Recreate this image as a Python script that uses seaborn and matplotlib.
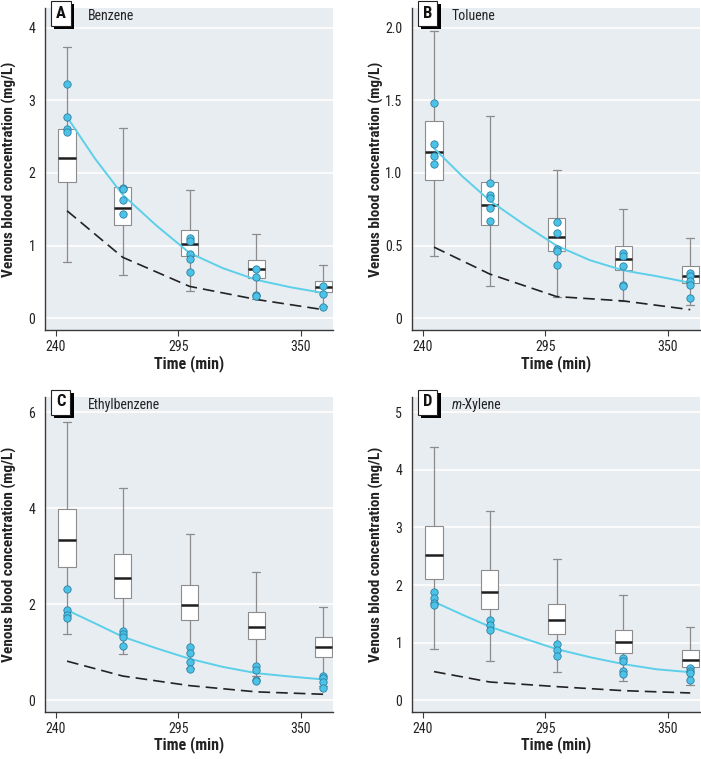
import matplotlib
import numpy as np
import pandas as pd
import seaborn as sns
from matplotlib import font_manager, patheffects, pyplot as plt

matplotlib.use("Agg")

# Sampling times (min)
times = [245, 270, 300, 330, 360]
# Finer grid for the model curve
model_times = [245, 257.5, 270, 285, 300, 315, 330, 345, 360]

# Box statistics per time: [whisker low, Q1, median, Q3, whisker high]
benzene_box = [[0.77, 1.87, 2.20, 2.61, 3.74], [0.59, 1.28, 1.52, 1.81, 2.62],
               [0.37, 0.86, 1.02, 1.22, 1.76], [0.26, 0.56, 0.68, 0.80, 1.16],
               [0.17, 0.36, 0.43, 0.51, 0.74]]
toluene_box = [[0.43, 0.95, 1.145, 1.36, 1.98], [0.22, 0.64, 0.78, 0.94, 1.39],
               [0.15, 0.46, 0.56, 0.69, 1.02], [0.12, 0.33, 0.41, 0.50, 0.75],
               [0.09, 0.24, 0.29, 0.36, 0.55]]
ethylbenzene_box = [[1.37, 2.78, 3.33, 3.99, 5.80], [0.96, 2.13, 2.55, 3.05, 4.42],
                    [0.66, 1.67, 1.99, 2.39, 3.46], [0.50, 1.27, 1.52, 1.83, 2.66],
                    [0.30, 0.90, 1.10, 1.32, 1.95]]
xylene_box = [[0.89, 2.11, 2.53, 3.02, 4.39], [0.69, 1.58, 1.88, 2.26, 3.29],
              [0.49, 1.15, 1.40, 1.67, 2.46], [0.34, 0.83, 1.01, 1.22, 1.82],
              [0.27, 0.58, 0.71, 0.87, 1.28]]

# Observed venous concentrations per time
benzene_obs = [[3.22, 2.77, 2.61, 2.56], [1.80, 1.78, 1.63, 1.43],
               [1.10, 1.07, 0.89, 0.82, 0.64], [0.68, 0.57, 0.32, 0.31], [0.44, 0.34, 0.16]]
toluene_obs = [[1.48, 1.20, 1.12, 1.06], [0.93, 0.85, 0.83, 0.76, 0.67],
               [0.66, 0.59, 0.48, 0.46, 0.37], [0.45, 0.43, 0.36, 0.23, 0.22],
               [0.31, 0.29, 0.26, 0.23, 0.14]]
ethylbenzene_obs = [[2.31, 1.88, 1.78, 1.72], [1.44, 1.375, 1.31, 1.125],
                    [1.10, 0.99, 0.79, 0.65], [0.70, 0.63, 0.42, 0.40], [0.51, 0.45, 0.37, 0.25]]
xylene_obs = [[1.88, 1.77, 1.69, 1.65], [1.40, 1.31, 1.23], [0.98, 0.87, 0.77],
              [0.73, 0.69, 0.51, 0.46], [0.57, 0.51, 0.47, 0.36]]

# Model prediction (cyan) on model_times
benzene_pred = [2.77, 2.20, 1.70, 1.28, 0.90, 0.69, 0.53, 0.43, 0.35]
toluene_pred = [1.17, 0.98, 0.81, 0.65, 0.50, 0.40, 0.33, 0.29, 0.245]
ethylbenzene_pred = [1.875, 1.60, 1.32, 1.08, 0.86, 0.69, 0.56, 0.49, 0.43]
xylene_pred = [1.71, 1.49, 1.28, 1.08, 0.89, 0.75, 0.63, 0.54, 0.49]

# Dashed reference line on times
benzene_dash = [1.48, 0.84, 0.44, 0.26, 0.12]
toluene_dash = [0.49, 0.305, 0.15, 0.12, 0.06]
ethylbenzene_dash = [0.81, 0.50, 0.30, 0.17, 0.12]
xylene_dash = [0.50, 0.32, 0.24, 0.17, 0.13]

panel_letters = ["A", "B", "C", "D"]
compound_names = ["Benzene", "Toluene", "Ethylbenzene", "Xylene"]
y_ticks = [[0, 1, 2, 3, 4], [0, 0.5, 1.0, 1.5, 2.0], [0, 2, 4, 6], [0, 1, 2, 3, 4, 5]]
y_tick_labels = [["0", "1", "2", "3", "4"], ["0", "0.5", "1.0", "1.5", "2.0"],
                 ["0", "2", "4", "6"], ["0", "1", "2", "3", "4", "5"]]
y_limits = [(-0.16, 4.27), (-0.08, 2.135), (-0.25, 6.32), (-0.2, 5.26)]
x_ticks = [240, 295, 350]

panels = [
    (benzene_box, benzene_obs, benzene_pred, benzene_dash),
    (toluene_box, toluene_obs, toluene_pred, toluene_dash),
    (ethylbenzene_box, ethylbenzene_obs, ethylbenzene_pred, ethylbenzene_dash),
    (xylene_box, xylene_obs, xylene_pred, xylene_dash),
]

sns.set_theme(style="white")

# Pick a narrow face if one is installed (the original uses a condensed grotesque)
installed = {f.name for f in font_manager.fontManager.ttflist}
narrow = [n for n in ["Liberation Sans Narrow", "Roboto Condensed", "Open Sans Condensed",
                      "DejaVu Sans Condensed"] if n in installed]
plt.rcParams["font.family"] = narrow + ["DejaVu Sans"]
plt.rcParams["font.stretch"] = "condensed"

BG = "#e8edf2"
CYAN = "#5ccfe9"
DOT = "#4cc3e6"
SPINE = "#3a3a3a"
TXT = "#222222"

fig = plt.figure(figsize=(7.01, 7.59), dpi=100)
W, H = 701, 759
# axes rectangles in pixels: left, top, right, bottom
rects = [(45, 8, 333, 330), (412, 8, 700, 330), (45, 397, 333, 712), (412, 397, 700, 712)]

for i, (box, obs, pred, dash) in enumerate(panels):
    l, t, r, b = rects[i]
    ax = fig.add_axes([l / W, (H - b) / H, (r - l) / W, (b - t) / H])
    ax.set_facecolor(BG)
    ax.set_xlim(235.1, 364.4)
    ax.set_ylim(*y_limits[i])

    # white horizontal grid
    for yv in y_ticks[i]:
        ax.axhline(yv, color="white", lw=1.2, zorder=0)

    stats = [dict(whislo=s[0], q1=s[1], med=s[2], q3=s[3], whishi=s[4]) for s in box]
    ax.bxp(stats, positions=times, widths=7.8, capwidths=3.6, showfliers=False,
           patch_artist=True, manage_ticks=False,
           boxprops=dict(facecolor="white", edgecolor="#8c8c8c", linewidth=0.8),
           medianprops=dict(color="#1e1e1e", linewidth=1.8),
           whiskerprops=dict(color="#8c8c8c", linewidth=0.9),
           capprops=dict(color="#8c8c8c", linewidth=0.9))

    dash_df = pd.DataFrame({"time": times, "conc": dash})
    sns.lineplot(data=dash_df, x="time", y="conc", ax=ax, color="#222222", lw=1.2, zorder=3)
    ax.lines[-1].set_linestyle((0, (7, 3.6)))

    pred_df = pd.DataFrame({"time": model_times, "conc": pred})
    sns.lineplot(data=pred_df, x="time", y="conc", ax=ax, color=CYAN, lw=1.4, zorder=4)

    obs_df = pd.DataFrame([(tm, v) for tm, vals in zip(times, obs) for v in vals],
                          columns=["time", "conc"])
    sns.scatterplot(data=obs_df, x="time", y="conc", ax=ax, s=28, color=DOT,
                    edgecolor="#2d7fa3", linewidth=0.6, zorder=5)

    # axes styling
    for side in ["top", "right"]:
        ax.spines[side].set_visible(False)
    for side in ["left", "bottom"]:
        ax.spines[side].set_color(SPINE)
        ax.spines[side].set_linewidth(1.0)
    ax.set_xticks(x_ticks)
    ax.set_xticklabels([str(v) for v in x_ticks])
    ax.set_yticks(y_ticks[i])
    ax.set_yticklabels(y_tick_labels[i])
    ax.tick_params(axis="x", bottom=True, length=4, width=0.8, color=SPINE,
                   labelsize=10, pad=3, labelcolor=TXT)
    ax.tick_params(axis="y", left=False, length=0, labelsize=10, pad=7, labelcolor=TXT)
    ax.set_xlabel("Time (min)", fontsize=11.5, fontweight="bold", color=TXT)
    ax.set_ylabel("Venous blood concentration (mg/L)", fontsize=11,
                  fontweight="bold", color=TXT)
    ax.yaxis.set_label_coords(-0.098, 0.5)
    ax.xaxis.set_label_coords(0.5, -0.078)

    # panel letter box with drop shadow
    lab = ax.annotate(panel_letters[i], xy=(0, 1), xycoords="axes fraction",
                      xytext=(11.3, -3.6), textcoords="offset points",
                      ha="center", va="center", fontsize=12, fontweight="bold",
                      color="#111111", zorder=10, annotation_clip=False,
                      bbox=dict(boxstyle="square,pad=0.3", facecolor="white",
                                edgecolor="#222222", linewidth=0.8))
    lab.get_bbox_patch().set_path_effects([
        patheffects.SimplePatchShadow(offset=(2.4, -2.4), shadow_rgbFace="black", alpha=1),
        patheffects.Normal()])

    if compound_names[i] == "Xylene":
        t1 = ax.annotate("m", xy=(0, 1), xycoords="axes fraction", xytext=(28.5, -5.8),
                         textcoords="offset points", ha="left", va="center",
                         fontsize=10, style="italic", color=TXT)
        ax.annotate("-Xylene", xy=(1, 0.5), xycoords=t1, xytext=(0, 0),
                    textcoords="offset points", ha="left", va="center",
                    fontsize=10, color=TXT)
    else:
        x_off = 31 if i in (0, 2) else 28.5
        ax.annotate(compound_names[i], xy=(0, 1), xycoords="axes fraction",
                    xytext=(x_off, -5.8), textcoords="offset points", ha="left",
                    va="center", fontsize=10, color=TXT)

fig.savefig("out.png", dpi=100)
